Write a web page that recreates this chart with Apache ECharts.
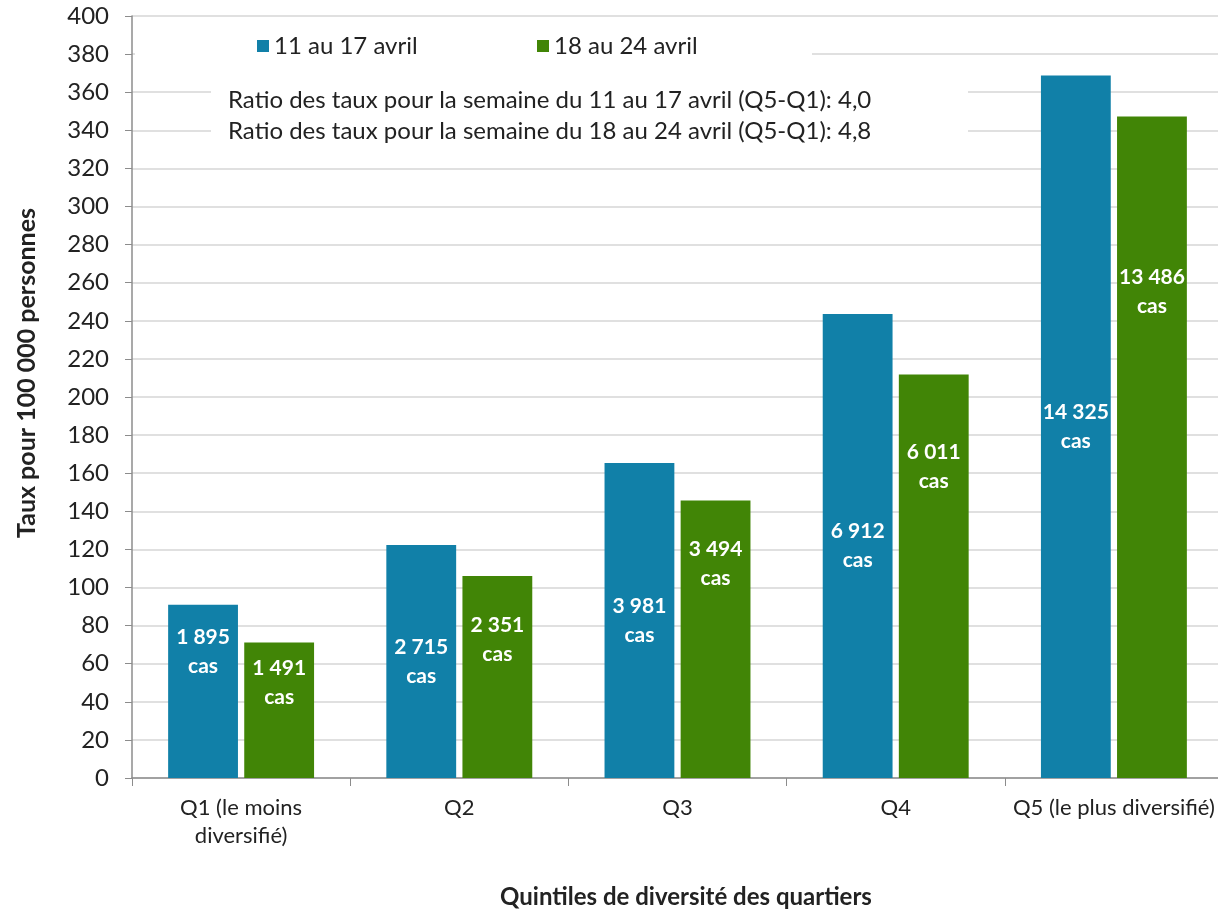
<!DOCTYPE html>
<html lang="fr">
<head>
<meta charset="utf-8">
<title>Taux pour 100 000 personnes selon les quintiles de diversité</title>
<script src="https://cdn.jsdelivr.net/npm/echarts@6/dist/echarts.min.js"></script>
<style>
  html, body { margin: 0; padding: 0; background: #fff; }
  #chart { width: 1218px; height: 913px; }
</style>
</head>
<body>
<div id="chart"></div>
<script>
// Quintiles de diversité des quartiers
const categories = ['Q1 (le moins\ndiversifié)', 'Q2', 'Q3', 'Q4', 'Q5 (le plus diversifié)'];
const seriesNames = ['11 au 17 avril', '18 au 24 avril'];

// Taux pour 100 000 personnes
const rateWeek1 = [91, 122.3, 165.4, 243.6, 368.8];
const rateWeek2 = [71.1, 106.1, 145.7, 211.8, 347.2];

// Nombre de cas
const casesWeek1 = [1895, 2715, 3981, 6912, 14325];
const casesWeek2 = [1491, 2351, 3494, 6011, 13486];

const ratioLines = [
  'Ratio des taux pour la semaine du 11 au 17 avril (Q5-Q1): 4,0',
  'Ratio des taux pour la semaine du 18 au 24 avril (Q5-Q1): 4,8'
];

const xTitle = 'Quintiles de diversité des quartiers';
const yTitle = 'Taux pour 100 000 personnes';

const yTicks = { min: 0, max: 400, step: 20 };

// vertical nudge (px) of each case label inside its bar
const labelNudge1 = [-40, 0, 0, 0, 0];
const labelNudge2 = [-28, -37, -75, -110, -156];

const FONT = 'Lato, "Open Sans", sans-serif';
const BLUE = '#1180a8';
const GREEN = '#418506';
const TEXT = '#222222';

function fmtCases(n) {
  return String(n).replace(/\B(?=(\d{3})+(?!\d))/g, ' ');
}

function buildData(rates, cases, nudge) {
  return rates.map((v, i) => ({
    value: v,
    cases: cases[i],
    label: { offset: [0, nudge[i]] }
  }));
}

const barLabel = {
  show: true,
  position: 'inside',
  color: '#ffffff',
  fontFamily: FONT,
  fontWeight: 'bold',
  fontSize: 21,
  lineHeight: 29,
  formatter: p => fmtCases(p.data.cases) + '\ncas'
};

const legendText = { fontFamily: FONT, fontSize: 24, color: TEXT };

const chart = echarts.init(document.getElementById('chart'), null, { renderer: 'canvas' });

chart.setOption({
  animation: false,
  backgroundColor: '#ffffff',
  textStyle: { fontFamily: FONT, color: TEXT },
  grid: { left: 132, top: 16, width: 1091, height: 762, outerBoundsMode: 'none', containLabel: false },
  legend: [
    {
      data: [seriesNames[0]],
      left: 252, top: 29,
      icon: 'rect', itemWidth: 12, itemHeight: 12,
      textStyle: legendText
    },
    {
      data: [seriesNames[1]],
      left: 532, top: 29,
      icon: 'rect', itemWidth: 12, itemHeight: 12,
      textStyle: legendText
    }
  ],
  xAxis: {
    type: 'category',
    data: categories,
    boundaryGap: true,
    axisLine: { show: true, lineStyle: { color: '#8c8c8c', width: 1.5 } },
    axisTick: { show: true, length: 8, interval: 0, alignWithLabel: false, lineStyle: { color: '#8c8c8c' } },
    axisLabel: { fontFamily: FONT, fontSize: 22, lineHeight: 28, color: TEXT, margin: 16, interval: 0 },
    splitLine: { show: false }
  },
  yAxis: {
    type: 'value',
    min: yTicks.min,
    max: yTicks.max,
    interval: yTicks.step,
    axisLine: { show: true, lineStyle: { color: '#8c8c8c', width: 1.5 } },
    axisTick: { show: true, length: 7, lineStyle: { color: '#8c8c8c' } },
    axisLabel: { fontFamily: FONT, fontSize: 24, color: TEXT, margin: 23 },
    splitLine: { show: true, lineStyle: { color: '#d6d6d6', width: 1.5 } }
  },
  series: [
    {
      name: seriesNames[0],
      type: 'bar',
      data: buildData(rateWeek1, casesWeek1, labelNudge1),
      barWidth: '32%',
      barGap: '9%',
      itemStyle: { color: BLUE },
      label: barLabel,
      z: 5
    },
    {
      name: seriesNames[1],
      type: 'bar',
      data: buildData(rateWeek2, casesWeek2, labelNudge2),
      barWidth: '32%',
      itemStyle: { color: GREEN },
      label: barLabel,
      z: 5
    }
  ],
  graphic: [
    // white panel behind the legend
    { type: 'rect', shape: { x: 135, y: 22, width: 677, height: 46 }, style: { fill: '#ffffff' }, z: 3 },
    // white panel behind the ratio annotation
    { type: 'rect', shape: { x: 211, y: 76, width: 757, height: 72 }, style: { fill: '#ffffff' }, z: 3 },
    { type: 'text', x: 228, y: 100, style: { text: ratioLines[0], fontFamily: FONT, fontSize: 24, fill: TEXT, verticalAlign: 'middle' }, z: 4 },
    { type: 'text', x: 228, y: 131, style: { text: ratioLines[1], fontFamily: FONT, fontSize: 24, fill: TEXT, verticalAlign: 'middle' }, z: 4 },
    // axis titles
    {
      type: 'text', x: 27, y: 373, rotation: Math.PI / 2,
      style: { text: yTitle, fontFamily: FONT, fontSize: 25, fontWeight: 'bold', fill: TEXT, align: 'center', verticalAlign: 'middle' }
    },
    {
      type: 'text', x: 686, y: 897,
      style: { text: xTitle, fontFamily: FONT, fontSize: 24, fontWeight: 'bold', fill: TEXT, align: 'center', verticalAlign: 'middle' }
    }
  ]
});
</script>
</body>
</html>
